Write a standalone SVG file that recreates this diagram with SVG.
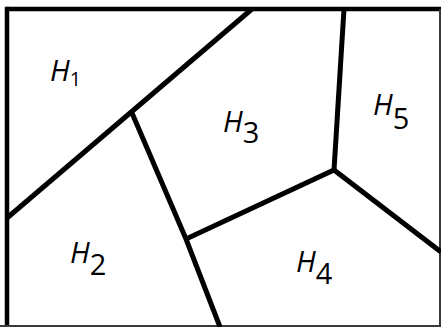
<svg xmlns="http://www.w3.org/2000/svg" width="441" height="327" viewBox="0 0 441 327">
<style>
.edge{stroke:#000;stroke-width:5;fill:none;stroke-linecap:butt;stroke-linejoin:miter}
.frame{stroke:#000;stroke-width:4.5;fill:none}
.clip{stroke:#3a3a3a;stroke-width:2;fill:none}
.lbl{font-family:"Open Sans","Liberation Sans",sans-serif;font-size:29px;font-style:italic;fill:#000}
.sub{font-style:normal}
</style>
<rect width="441" height="327" fill="#fff"/>
<g id="frame">
<line class="frame" x1="7" y1="9" x2="441" y2="9"/>
<line class="frame" x1="7" y1="6.8" x2="7" y2="327"/>
<line class="clip" x1="440" y1="9" x2="440" y2="327"/>
<line class="clip" x1="0" y1="326" x2="441" y2="326"/>
</g>
<g id="connectors">
<line class="edge" x1="252" y1="9" x2="7" y2="218"/>
<polyline class="edge" points="132,113 186,239 220,327"/>
<polyline class="edge" points="186,239 334,170 441,252"/>
<line class="edge" x1="334" y1="170" x2="344" y2="9"/>
</g>
<g id="H1"><text class="lbl" x="50" y="81">H<tspan class="sub" font-size="20" dy="5">1</tspan></text></g>
<g id="H2"><text class="lbl" x="70" y="263">H<tspan class="sub" dy="12">2</tspan></text></g>
<g id="H3"><text class="lbl" x="223" y="132">H<tspan class="sub" dy="11">3</tspan></text></g>
<g id="H4"><text class="lbl" x="296" y="272">H<tspan class="sub" dy="12">4</tspan></text></g>
<g id="H5"><text class="lbl" x="373" y="115">H<tspan class="sub" dy="14">5</tspan></text></g>
</svg>
